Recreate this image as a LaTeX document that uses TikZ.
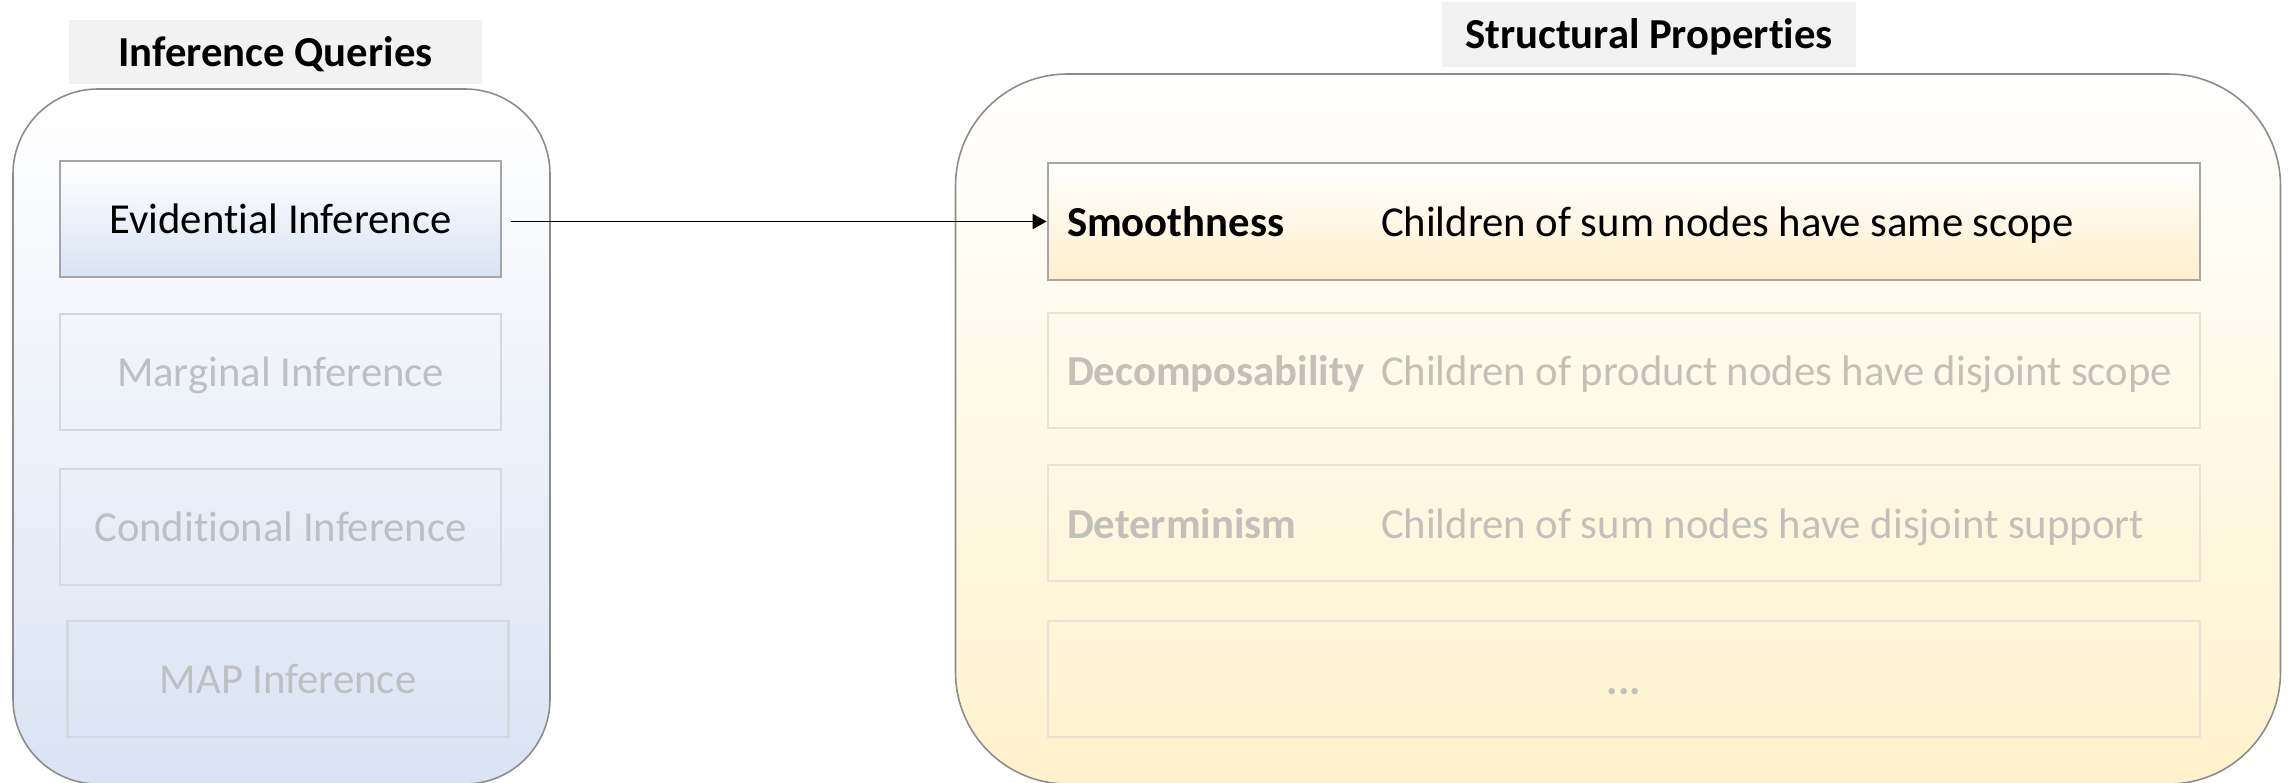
\documentclass[tikz,border=0pt]{standalone}
\usepackage{fontspec}
\setmainfont{Carlito}[Ligatures=NoCommon]
\usetikzlibrary{arrows.meta}

\definecolor{panelline}{HTML}{8C8C8C}
\definecolor{qblue}{HTML}{DAE3F3}
\definecolor{pyellow}{HTML}{FFF2CC}
\definecolor{pyellowbox}{HTML}{FFF0CD}
\definecolor{boxline}{HTML}{A6A6A6}
\definecolor{qfadeline}{HTML}{D5D9DF}
\definecolor{qfadetext}{HTML}{BDBFC3}
\definecolor{pfadeline}{HTML}{E9E3D3}
\definecolor{pfadetext}{HTML}{C3C0B8}
\definecolor{titlegray}{HTML}{F2F2F2}

% one row of a property box: bold name column, then its description
\newcommand{\proprow}[2]{\makebox[111.4mm][l]{\makebox[31.4mm][l]{\bfseries #1}#2}}
\newcommand{\labelfont}{\fontsize{12.15}{14}\selectfont}

\tikzset{
  every node/.style={font=\labelfont},
  panel/.style={draw=panelline, line width=0.45pt, inner sep=0pt},
  querypanel/.style={panel, rounded corners=8.5mm, top color=white, bottom color=qblue,
    minimum width=53.7mm, minimum height=69.5mm},
  proppanel/.style={panel, rounded corners=11.2mm, top color=white, bottom color=pyellow,
    minimum width=132.5mm, minimum height=71mm},
  titlebox/.style={fill=titlegray, minimum height=6.4mm, inner sep=0pt,
    font=\labelfont\bfseries, text height=8.6pt, text depth=0.4pt},
  querybox/.style={line width=0.75pt, minimum width=44.1mm, minimum height=11.6mm,
    inner sep=0pt, text height=8.6pt, text depth=0.4pt},
  queryon/.style={querybox, draw=boxline, top color=white, bottom color=qblue, text=black},
  queryoff/.style={querybox, draw=qfadeline, text=qfadetext},
  propbox/.style={line width=0.75pt, minimum width=115.2mm, minimum height=11.6mm,
    inner xsep=1.9mm, inner ysep=0pt, text height=9pt, text depth=0.4pt},
  propon/.style={propbox, draw=boxline, top color=white, bottom color=pyellowbox, text=black},
  propoff/.style={propbox, draw=pfadeline, text=pfadetext},
  link/.style={draw=black, line width=0.5pt, -{Triangle[length=1.4mm, width=1.5mm]}},
}

\begin{document}
\begin{tikzpicture}[x=1mm, y=-1mm]
  \useasboundingbox (0,0) rectangle (229.2,78.3);

  % containers
  \node[querypanel] (qpanel) at (28.15,43.65) {};
  \node[proppanel] (ppanel) at (161.8,42.9) {};

  % headings
  \node[titlebox, minimum width=41.3mm] (qtitle) at (27.55,5.2) {Inference Queries};
  \node[titlebox, minimum width=41.4mm, minimum height=6.5mm] (ptitle) at (164.9,3.45) {Structural Properties};

  % inference queries
  \node[queryon]  (ev) at (28.05,21.9) {Evidential Inference};
  \node[queryoff] (mg) at (28.05,37.2) {Marginal Inference};
  \node[queryoff] (cd) at (28.05,52.7) {Conditional Inference};
  \node[queryoff] (mp) at (28.8,67.9)  {MAP Inference};

  % structural properties
  \node[propon, minimum height=11.7mm] (sm) at (162.4,22.15)
    {\proprow{Smoothness}{Children of sum nodes have same scope}};
  \node[propoff, minimum height=11.5mm] (dc) at (162.4,37.05)
    {\proprow{Decomposability}{Children of product nodes have disjoint scope}};
  \node[propoff] (dt) at (162.4,52.3)
    {\proprow{Determinism}{Children of sum nodes have disjoint support}};
  \node[propoff, font=\labelfont\bfseries] (more) at (162.4,67.9)
    {\makebox[111.4mm][c]{...}};

  % query -> property
  \draw[link] ([xshift=0.9mm]sm.west -| ev.east) -- (sm.west);
\end{tikzpicture}
\end{document}
